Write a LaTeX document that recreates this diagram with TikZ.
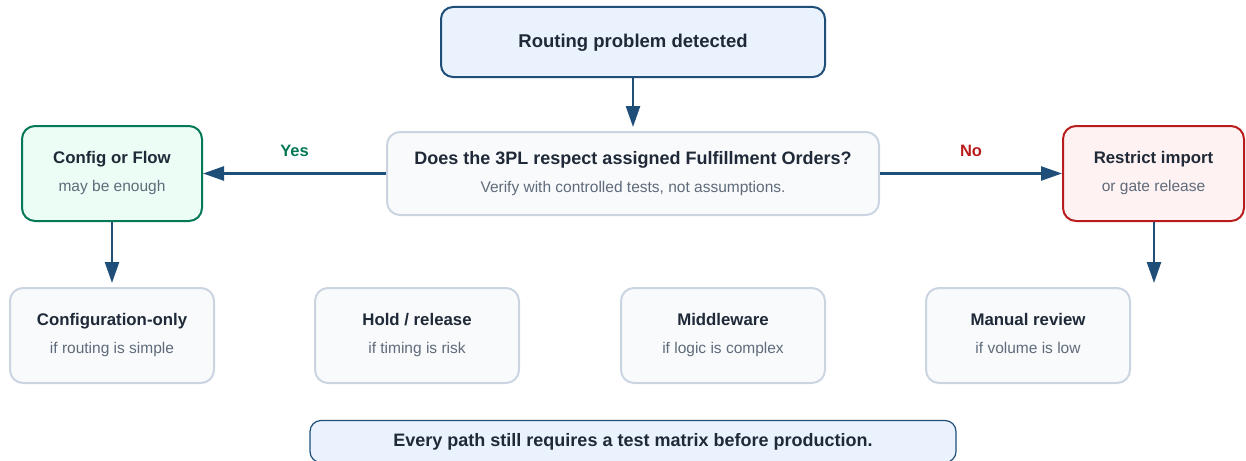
\documentclass[tikz,border=0pt]{standalone}
\usepackage{fontspec}
\setmainfont{Liberation Sans}
\usetikzlibrary{arrows.meta}

\definecolor{navy}{HTML}{1F4E79}
\definecolor{ink}{HTML}{1F2937}
\definecolor{muted}{HTML}{5F6B7A}
\definecolor{bluefill}{HTML}{EAF2FE}
\definecolor{slatefill}{HTML}{F8FAFC}
\definecolor{slateline}{HTML}{CBD5E1}
\definecolor{yesgreen}{HTML}{047857}
\definecolor{greenfill}{HTML}{ECFDF5}
\definecolor{nored}{HTML}{B91C1C}
\definecolor{redfill}{HTML}{FEF2F2}

\newcommand{\twolines}[2]{{\bfseries\color{ink}\strut#1}\\[8pt]{\fontsize{15.5}{18}\selectfont\color{muted}\strut#2}}

\begin{document}
\begin{tikzpicture}[x=1pt,y=-1pt,
		font=\fontsize{16.8}{20}\selectfont,
		box/.style={draw=slateline, fill=slatefill, line width=2pt, rounded corners=13pt,
			minimum width=204pt, minimum height=95pt, align=center, inner sep=0pt},
		flow/.style={draw=navy, line width=2.5pt, -{Triangle[length=21pt,width=14pt]}},
		branch/.style={font=\fontsize{16.5}{20}\selectfont\bfseries}
	]
	\clip (0,0) rectangle (1246,460);

	% Start
	\node[box, draw=navy, fill=bluefill, minimum width=384pt, minimum height=70pt, rounded corners=12pt,
		font=\fontsize{18.5}{22}\selectfont\bfseries, text=ink, text height=14pt, text depth=2pt] (start) at (633,42) {Routing problem detected};

	% Decision
	\node[box, minimum width=492pt, minimum height=83pt] (decide) at (633,173.5)
		{\fontsize{18}{21}\selectfont\twolines{Does the 3PL respect assigned Fulfillment Orders?}{Verify with controlled tests, not assumptions.}};

	% Outcomes
	\node[box, draw=yesgreen, fill=greenfill, minimum width=180pt] (flowcfg) at (112,173.5)
		{\twolines{Config or Flow}{may be enough}};
	\node[box, draw=nored, fill=redfill, minimum width=181pt] (restrict) at (1153.5,173.5)
		{\twolines{Restrict import}{or gate release}};

	% Options
	\foreach \name/\x/\title/\sub in {
			cfgonly/112/Configuration-only/if routing is simple,
			hold/417/{Hold / release}/if timing is risk,
			middle/723/Middleware/if logic is complex,
			manual/1028/Manual review/if volume is low} {
		\node[box] (\name) at (\x,335.5) {\twolines{\title}{\sub}};
	}

	% Footer
	\node[box, draw=navy, fill=bluefill, line width=1.2pt, minimum width=646pt, minimum height=42pt,
		rounded corners=11pt, font=\fontsize{18}{21}\selectfont\bfseries, text=ink] (footer) at (633,441.5)
		{Every path still requires a test matrix before production.};

	% Connectors
	\coordinate (leftend) at (112,283);
	\coordinate (rightend) at (1154,283);
	\draw[flow, shorten >=4pt] (start) -- (decide);
	\draw[flow] (decide) -- node[branch, text=yesgreen, above=12pt] {Yes} (flowcfg);
	\draw[flow] (decide) -- node[branch, text=nored, above=12pt] {No} (restrict);
	\draw[flow] (flowcfg) -- (leftend);
	\draw[flow] (restrict.south -| rightend) -- (rightend);
\end{tikzpicture}
\end{document}
